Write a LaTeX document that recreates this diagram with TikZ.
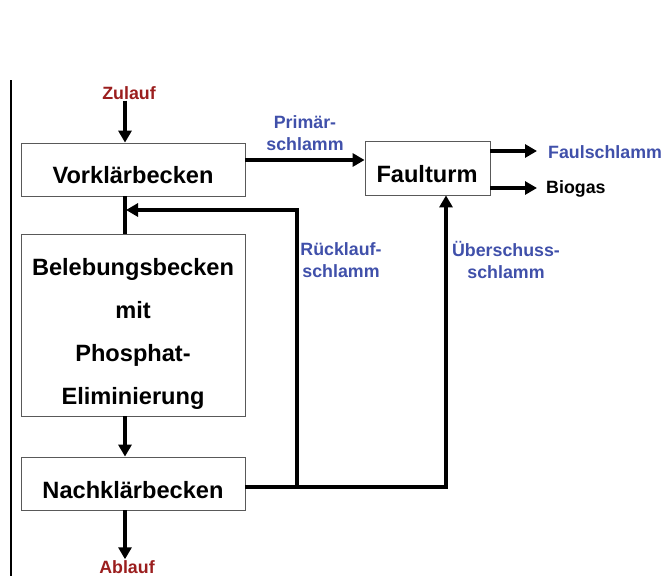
\documentclass[tikz,border=0pt]{standalone}
\usepackage{fontspec}
\setmainfont{Liberation Sans}
\usetikzlibrary{arrows.meta}
\definecolor{inred}{RGB}{155,30,30}
\definecolor{slblue}{RGB}{64,80,170}
\begin{document}
\begin{tikzpicture}[x=1pt,y=-1pt,
  box/.style={draw=black!65, line width=0.8pt, minimum width=224pt, inner sep=0pt},
  boxtext/.style={font=\bfseries\fontsize{23.6}{43}\selectfont, align=center, inner sep=0pt},
  lab/.style={font=\bfseries\fontsize{17.8}{21.5}\selectfont, align=center, inner sep=1pt},
  arr/.style={line width=3.5pt, -{Triangle[length=12pt,width=13pt]}},
  ln/.style={line width=3.5pt}]
\useasboundingbox (0,0) rectangle (667,576);
\draw[line width=1.3pt] (11,80) -- (11,576);
% boxes
\node[box, minimum height=53pt] (vk) at (133,169.5) {};
\node[boxtext] (vkt) at (133,175) {Vorklärbecken};
\node[box, minimum height=182pt] (bb) at (133,325) {};
\node[boxtext] (bbt) at (133,333.5) {Belebungsbecken\\mit\\Phosphat-\\Eliminierung};
\node[box, minimum height=53pt] (nk) at (133,483.5) {};
\node[boxtext] (nkt) at (133,490) {Nachklärbecken};
\node[box, minimum width=125pt, minimum height=54pt] (fa) at (427.5,168) {};
\node[boxtext] (fat) at (427,174) {Faulturm};
% labels
\node[lab, text=inred] (zu) at (129,93) {Zulauf};
\node[lab, text=inred] (ab) at (127,567) {Ablauf};
\node[lab, text=slblue] (ps) at (305,133) {Primär-\\schlamm};
\node[lab, text=slblue] (rs) at (341,260) {Rücklauf-\\schlamm};
\node[lab, text=slblue] (us) at (506,260) {Überschuss-\\schlamm};
\node[lab, text=slblue, anchor=west] (fs) at (547,152) {Faulschlamm};
\node[lab, anchor=west] (bg) at (545,189) {Biogas};
% coordinates
\coordinate (cx) at (125,0);
\coordinate (rx) at (297,0);
\coordinate (rend) at (126,210);
\coordinate (ny) at (0,487);
\coordinate (ux) at (446,0);
\coordinate (py) at (0,160);
\coordinate (fy) at (0,151);
\coordinate (gy) at (0,188);
\coordinate (tx) at (537,0);
% connectors
\draw[arr] (cx |- zu.south) -- (cx |- vk.north);
\draw[ln] (cx |- vk.south) -- (cx |- bb.north);
\draw[arr] (cx |- bb.south) -- (cx |- nk.north);
\draw[arr] (cx |- nk.south) -- (cx |- ab.north);
\draw[arr] (vk.east |- py) -- (fa.west |- py);
\draw[arr] (fa.east |- fy) -- (tx |- fy);
\draw[arr] (fa.east |- gy) -- (tx |- gy);
\draw[arr] (rx |- ny) |- (rend);
\draw[arr] (nk.east |- ny) -| (ux |- fa.south);
\end{tikzpicture}
\end{document}
